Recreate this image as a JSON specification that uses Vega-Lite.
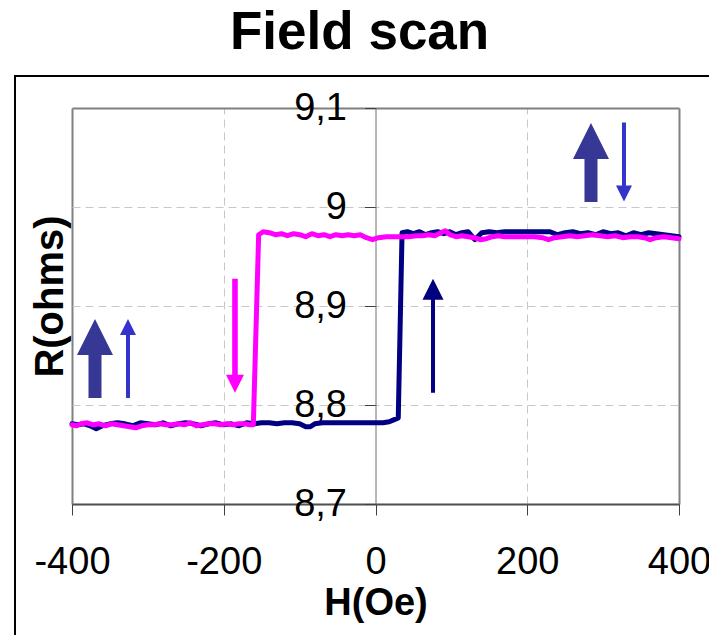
{
  "$schema": "https://vega.github.io/schema/vega-lite/v6.json",
  "autosize": {"type": "none"},
  "width": 700,
  "height": 570,
  "padding": {"left": 15, "top": 76, "right": 0, "bottom": 0},
  "background": "white",
  "title": {"text": "Field scan", "fontSize": 53, "fontWeight": "bold", "font": "Liberation Sans", "color": "black", "anchor": "start", "frame": "group", "dx": 215, "baseline": "alphabetic", "offset": -26},
  "config": {
    "font": "Liberation Sans",
    "view": {"stroke": "black", "strokeWidth": 2}
  },
  "resolve": {"scale": {"x": "shared"}, "axis": {"x": "independent"}},
  "datasets": {
    "curves": [
      {"H": -400, "R": 8.781, "sweep": "ascending"}, {"H": -392, "R": 8.780, "sweep": "ascending"}, {"H": -384, "R": 8.781, "sweep": "ascending"}, {"H": -376, "R": 8.779, "sweep": "ascending"}, {"H": -368, "R": 8.776, "sweep": "ascending"}, {"H": -360, "R": 8.779, "sweep": "ascending"}, {"H": -350, "R": 8.781, "sweep": "ascending"}, {"H": -340, "R": 8.782, "sweep": "ascending"}, {"H": -330, "R": 8.781, "sweep": "ascending"}, {"H": -320, "R": 8.779, "sweep": "ascending"}, {"H": -310, "R": 8.782, "sweep": "ascending"}, {"H": -300, "R": 8.781, "sweep": "ascending"}, {"H": -290, "R": 8.780, "sweep": "ascending"}, {"H": -280, "R": 8.782, "sweep": "ascending"}, {"H": -270, "R": 8.779, "sweep": "ascending"}, {"H": -260, "R": 8.781, "sweep": "ascending"}, {"H": -250, "R": 8.782, "sweep": "ascending"}, {"H": -240, "R": 8.781, "sweep": "ascending"}, {"H": -230, "R": 8.779, "sweep": "ascending"}, {"H": -220, "R": 8.781, "sweep": "ascending"}, {"H": -210, "R": 8.782, "sweep": "ascending"}, {"H": -200, "R": 8.780, "sweep": "ascending"}, {"H": -190, "R": 8.781, "sweep": "ascending"}, {"H": -180, "R": 8.779, "sweep": "ascending"}, {"H": -170, "R": 8.782, "sweep": "ascending"}, {"H": -160, "R": 8.781, "sweep": "ascending"}, {"H": -150, "R": 8.782, "sweep": "ascending"}, {"H": -140, "R": 8.782, "sweep": "ascending"}, {"H": -130, "R": 8.781, "sweep": "ascending"}, {"H": -120, "R": 8.782, "sweep": "ascending"}, {"H": -110, "R": 8.782, "sweep": "ascending"}, {"H": -100, "R": 8.781, "sweep": "ascending"}, {"H": -92, "R": 8.778, "sweep": "ascending"}, {"H": -86, "R": 8.778, "sweep": "ascending"}, {"H": -80, "R": 8.781, "sweep": "ascending"}, {"H": -70, "R": 8.782, "sweep": "ascending"}, {"H": -50, "R": 8.782, "sweep": "ascending"}, {"H": -30, "R": 8.782, "sweep": "ascending"}, {"H": -10, "R": 8.782, "sweep": "ascending"}, {"H": 10, "R": 8.782, "sweep": "ascending"}, {"H": 18, "R": 8.783, "sweep": "ascending"}, {"H": 24, "R": 8.785, "sweep": "ascending"}, {"H": 30, "R": 8.787, "sweep": "ascending"}, {"H": 35, "R": 8.974, "sweep": "ascending"}, {"H": 42, "R": 8.975, "sweep": "ascending"}, {"H": 50, "R": 8.973, "sweep": "ascending"}, {"H": 58, "R": 8.975, "sweep": "ascending"}, {"H": 66, "R": 8.972, "sweep": "ascending"}, {"H": 74, "R": 8.974, "sweep": "ascending"}, {"H": 82, "R": 8.975, "sweep": "ascending"}, {"H": 90, "R": 8.973, "sweep": "ascending"}, {"H": 98, "R": 8.975, "sweep": "ascending"}, {"H": 106, "R": 8.972, "sweep": "ascending"}, {"H": 114, "R": 8.974, "sweep": "ascending"}, {"H": 122, "R": 8.975, "sweep": "ascending"}, {"H": 131, "R": 8.967, "sweep": "ascending"}, {"H": 140, "R": 8.974, "sweep": "ascending"}, {"H": 150, "R": 8.975, "sweep": "ascending"}, {"H": 160, "R": 8.974, "sweep": "ascending"}, {"H": 170, "R": 8.975, "sweep": "ascending"}, {"H": 180, "R": 8.975, "sweep": "ascending"}, {"H": 190, "R": 8.975, "sweep": "ascending"}, {"H": 200, "R": 8.975, "sweep": "ascending"}, {"H": 210, "R": 8.975, "sweep": "ascending"}, {"H": 220, "R": 8.975, "sweep": "ascending"}, {"H": 230, "R": 8.975, "sweep": "ascending"}, {"H": 240, "R": 8.972, "sweep": "ascending"}, {"H": 250, "R": 8.974, "sweep": "ascending"}, {"H": 260, "R": 8.975, "sweep": "ascending"}, {"H": 270, "R": 8.973, "sweep": "ascending"}, {"H": 280, "R": 8.974, "sweep": "ascending"}, {"H": 290, "R": 8.972, "sweep": "ascending"}, {"H": 300, "R": 8.975, "sweep": "ascending"}, {"H": 310, "R": 8.973, "sweep": "ascending"}, {"H": 320, "R": 8.974, "sweep": "ascending"}, {"H": 330, "R": 8.971, "sweep": "ascending"}, {"H": 340, "R": 8.974, "sweep": "ascending"}, {"H": 350, "R": 8.972, "sweep": "ascending"}, {"H": 360, "R": 8.974, "sweep": "ascending"}, {"H": 370, "R": 8.973, "sweep": "ascending"}, {"H": 380, "R": 8.972, "sweep": "ascending"}, {"H": 390, "R": 8.971, "sweep": "ascending"}, {"H": 400, "R": 8.970, "sweep": "ascending"},
      {"H": -400, "R": 8.780, "sweep": "descending"}, {"H": -394, "R": 8.779, "sweep": "descending"}, {"H": -388, "R": 8.781, "sweep": "descending"}, {"H": -380, "R": 8.782, "sweep": "descending"}, {"H": -372, "R": 8.780, "sweep": "descending"}, {"H": -364, "R": 8.781, "sweep": "descending"}, {"H": -356, "R": 8.779, "sweep": "descending"}, {"H": -348, "R": 8.781, "sweep": "descending"}, {"H": -340, "R": 8.780, "sweep": "descending"}, {"H": -332, "R": 8.779, "sweep": "descending"}, {"H": -324, "R": 8.778, "sweep": "descending"}, {"H": -316, "R": 8.777, "sweep": "descending"}, {"H": -308, "R": 8.779, "sweep": "descending"}, {"H": -300, "R": 8.780, "sweep": "descending"}, {"H": -292, "R": 8.780, "sweep": "descending"}, {"H": -284, "R": 8.781, "sweep": "descending"}, {"H": -276, "R": 8.780, "sweep": "descending"}, {"H": -268, "R": 8.780, "sweep": "descending"}, {"H": -260, "R": 8.781, "sweep": "descending"}, {"H": -252, "R": 8.780, "sweep": "descending"}, {"H": -244, "R": 8.782, "sweep": "descending"}, {"H": -236, "R": 8.779, "sweep": "descending"}, {"H": -228, "R": 8.780, "sweep": "descending"}, {"H": -220, "R": 8.781, "sweep": "descending"}, {"H": -212, "R": 8.781, "sweep": "descending"}, {"H": -204, "R": 8.780, "sweep": "descending"}, {"H": -196, "R": 8.781, "sweep": "descending"}, {"H": -188, "R": 8.780, "sweep": "descending"}, {"H": -180, "R": 8.781, "sweep": "descending"}, {"H": -172, "R": 8.781, "sweep": "descending"}, {"H": -166, "R": 8.780, "sweep": "descending"}, {"H": -161, "R": 8.780, "sweep": "descending"}, {"H": -154, "R": 8.972, "sweep": "descending"}, {"H": -148, "R": 8.975, "sweep": "descending"}, {"H": -140, "R": 8.974, "sweep": "descending"}, {"H": -132, "R": 8.972, "sweep": "descending"}, {"H": -124, "R": 8.973, "sweep": "descending"}, {"H": -116, "R": 8.971, "sweep": "descending"}, {"H": -108, "R": 8.973, "sweep": "descending"}, {"H": -100, "R": 8.972, "sweep": "descending"}, {"H": -92, "R": 8.970, "sweep": "descending"}, {"H": -84, "R": 8.973, "sweep": "descending"}, {"H": -76, "R": 8.971, "sweep": "descending"}, {"H": -68, "R": 8.972, "sweep": "descending"}, {"H": -60, "R": 8.970, "sweep": "descending"}, {"H": -52, "R": 8.972, "sweep": "descending"}, {"H": -44, "R": 8.971, "sweep": "descending"}, {"H": -36, "R": 8.972, "sweep": "descending"}, {"H": -28, "R": 8.971, "sweep": "descending"}, {"H": -20, "R": 8.972, "sweep": "descending"}, {"H": -12, "R": 8.969, "sweep": "descending"}, {"H": -4, "R": 8.967, "sweep": "descending"}, {"H": 4, "R": 8.969, "sweep": "descending"}, {"H": 14, "R": 8.970, "sweep": "descending"}, {"H": 24, "R": 8.970, "sweep": "descending"}, {"H": 34, "R": 8.970, "sweep": "descending"}, {"H": 44, "R": 8.970, "sweep": "descending"}, {"H": 54, "R": 8.971, "sweep": "descending"}, {"H": 62, "R": 8.971, "sweep": "descending"}, {"H": 70, "R": 8.972, "sweep": "descending"}, {"H": 78, "R": 8.971, "sweep": "descending"}, {"H": 86, "R": 8.974, "sweep": "descending"}, {"H": 92, "R": 8.976, "sweep": "descending"}, {"H": 98, "R": 8.972, "sweep": "descending"}, {"H": 106, "R": 8.970, "sweep": "descending"}, {"H": 114, "R": 8.971, "sweep": "descending"}, {"H": 122, "R": 8.970, "sweep": "descending"}, {"H": 130, "R": 8.969, "sweep": "descending"}, {"H": 138, "R": 8.967, "sweep": "descending"}, {"H": 146, "R": 8.968, "sweep": "descending"}, {"H": 154, "R": 8.970, "sweep": "descending"}, {"H": 162, "R": 8.971, "sweep": "descending"}, {"H": 170, "R": 8.970, "sweep": "descending"}, {"H": 180, "R": 8.970, "sweep": "descending"}, {"H": 190, "R": 8.970, "sweep": "descending"}, {"H": 200, "R": 8.970, "sweep": "descending"}, {"H": 210, "R": 8.970, "sweep": "descending"}, {"H": 220, "R": 8.969, "sweep": "descending"}, {"H": 228, "R": 8.967, "sweep": "descending"}, {"H": 236, "R": 8.969, "sweep": "descending"}, {"H": 246, "R": 8.970, "sweep": "descending"}, {"H": 256, "R": 8.971, "sweep": "descending"}, {"H": 266, "R": 8.970, "sweep": "descending"}, {"H": 276, "R": 8.971, "sweep": "descending"}, {"H": 286, "R": 8.972, "sweep": "descending"}, {"H": 296, "R": 8.971, "sweep": "descending"}, {"H": 306, "R": 8.970, "sweep": "descending"}, {"H": 316, "R": 8.971, "sweep": "descending"}, {"H": 326, "R": 8.969, "sweep": "descending"}, {"H": 336, "R": 8.970, "sweep": "descending"}, {"H": 346, "R": 8.970, "sweep": "descending"}, {"H": 354, "R": 8.969, "sweep": "descending"}, {"H": 362, "R": 8.967, "sweep": "descending"}, {"H": 370, "R": 8.969, "sweep": "descending"}, {"H": 380, "R": 8.970, "sweep": "descending"}, {"H": 390, "R": 8.969, "sweep": "descending"}, {"H": 400, "R": 8.968, "sweep": "descending"}
    ],
    "arrows": [
      {"H": -369.7, "R": 8.847, "kind": "thick-up"},
      {"H": -326.2, "R": 8.847, "kind": "thin-up"},
      {"H": -185.2, "R": 8.870, "kind": "magenta-down"},
      {"H": 75.8, "R": 8.870, "kind": "navy-up"},
      {"H": 284, "R": 9.045, "kind": "thick-up"},
      {"H": 327.5, "R": 9.0455, "kind": "thin-down"}
    ]
  },
  "encoding": {
    "y": {
      "field": "R", "type": "quantitative",
      "scale": {"domain": [8.7, 9.1], "range": [428, 32], "nice": false, "zero": false},
      "axis": {
        "title": "R(ohms)", "titleFontSize": 40, "titleFontWeight": "bold", "titleColor": "black",
        "titleAngle": 270, "titleX": -325, "titleY": 220, "titleAlign": "center", "titleBaseline": "middle",
        "offset": -360.5,
        "values": [8.7, 8.8, 8.9, 9.0, 9.1],
        "labelExpr": "replace(format(datum.value, '.1~f'), '.', ',')",
        "labelFontSize": 38, "labelColor": "black", "labelPadding": 18, "labelOverlap": false, "labelBound": false, "labelFlush": false,
        "tickSize": 11, "tickColor": "#404040", "tickWidth": 1,
        "domainColor": "#707070", "domainWidth": 1,
        "grid": true,
        "gridColor": {"condition": {"test": "datum.value > 9.05 || datum.value < 8.75", "value": "#808080"}, "value": "#c8c8c8"},
        "gridWidth": {"condition": {"test": "datum.value > 9.05 || datum.value < 8.75", "value": 2}, "value": 1},
        "gridDash": {"condition": {"test": "datum.value > 9.05 || datum.value < 8.75", "value": []}, "value": [8, 5]}
      }
    }
  },
  "layer": [
    {
      "data": {"name": "curves"},
      "transform": [{"filter": "datum.sweep === 'ascending'"}],
      "mark": {"type": "line", "strokeWidth": 5, "strokeJoin": "round", "strokeCap": "round"},
      "encoding": {
        "x": {
          "field": "H", "type": "quantitative",
          "scale": {"domain": [-400, 400], "range": [57, 664], "nice": false, "zero": false},
          "axis": {
            "orient": "bottom", "offset": -142,
            "title": "H(Oe)", "titleFontSize": 38, "titleFontWeight": "bold", "titleColor": "black", "titlePadding": 3,
            "values": [-400, -200, 0, 200, 400],
            "labelExpr": "'' + datum.value",
            "labelFontSize": 38, "labelColor": "black", "labelPadding": 28, "labelFlush": false, "labelOverlap": false, "labelBound": false,
            "tickSize": 11, "tickColor": "#404040", "tickWidth": 1,
            "domainColor": "#505050", "domainWidth": 1.5,
            "grid": false
          }
        },
        "color": {"field": "sweep", "type": "nominal", "scale": {"domain": ["ascending", "descending"], "range": ["#000080", "#FF00FF"]}, "legend": null}
      }
    },
    {
      "data": {"name": "curves"},
      "transform": [{"filter": "datum.sweep === 'descending'"}],
      "mark": {"type": "line", "strokeWidth": 5, "strokeJoin": "round", "strokeCap": "round"},
      "encoding": {
        "x": {
          "field": "H", "type": "quantitative",
          "scale": {"domain": [-400, 400], "range": [57, 664], "nice": false, "zero": false},
          "axis": null
        },
        "color": {"field": "sweep", "type": "nominal", "scale": {"domain": ["ascending", "descending"], "range": ["#000080", "#FF00FF"]}, "legend": null}
      }
    },
    {
      "data": {"name": "arrows"},
      "mark": {"type": "point", "filled": true, "size": 10000, "opacity": 1, "strokeWidth": 0},
      "encoding": {
        "x": {
          "field": "H", "type": "quantitative",
          "scale": {"domain": [-400, 400], "range": [57, 664], "nice": false, "zero": false},
          "axis": {
            "orient": "top", "offset": 0, "title": null,
            "values": [-400, -200, 200, 400],
            "labels": false, "ticks": false, "domain": false,
            "grid": true,
            "gridColor": {"condition": {"test": "abs(datum.value) === 400", "value": "#808080"}, "value": "#c8c8c8"},
            "gridWidth": {"condition": {"test": "abs(datum.value) === 400", "value": 2}, "value": 1},
            "gridDash": {"condition": {"test": "abs(datum.value) === 400", "value": []}, "value": [8, 5]}
          }
        },
        "shape": {
          "field": "kind", "type": "nominal", "legend": null,
          "scale": {
            "domain": ["thick-up", "thin-up", "thin-down", "magenta-down", "navy-up"],
            "range": [
              "M0,-0.79L0.36,-0.07L0.13,-0.07L0.13,0.79L-0.13,0.79L-0.13,-0.07L-0.36,-0.07Z",
              "M0,-0.79L0.16,-0.47L0.04,-0.47L0.04,0.79L-0.04,0.79L-0.04,-0.47L-0.16,-0.47Z",
              "M0,0.79L0.16,0.47L0.04,0.47L0.04,-0.79L-0.04,-0.79L-0.04,0.47L-0.16,0.47Z",
              "M0,1.14L0.18,0.78L0.056,0.78L0.056,-1.14L-0.056,-1.14L-0.056,0.78L-0.18,0.78Z",
              "M0,-1.14L0.21,-0.72L0.04,-0.72L0.04,1.14L-0.04,1.14L-0.04,-0.72L-0.21,-0.72Z"
            ]
          }
        },
        "fill": {
          "field": "kind", "type": "nominal", "legend": null,
          "scale": {
            "domain": ["thick-up", "thin-up", "thin-down", "magenta-down", "navy-up"],
            "range": ["#373796", "#3434CC", "#3434CC", "#FF00FF", "#000080"]
          }
        }
      }
    }
  ]
}
